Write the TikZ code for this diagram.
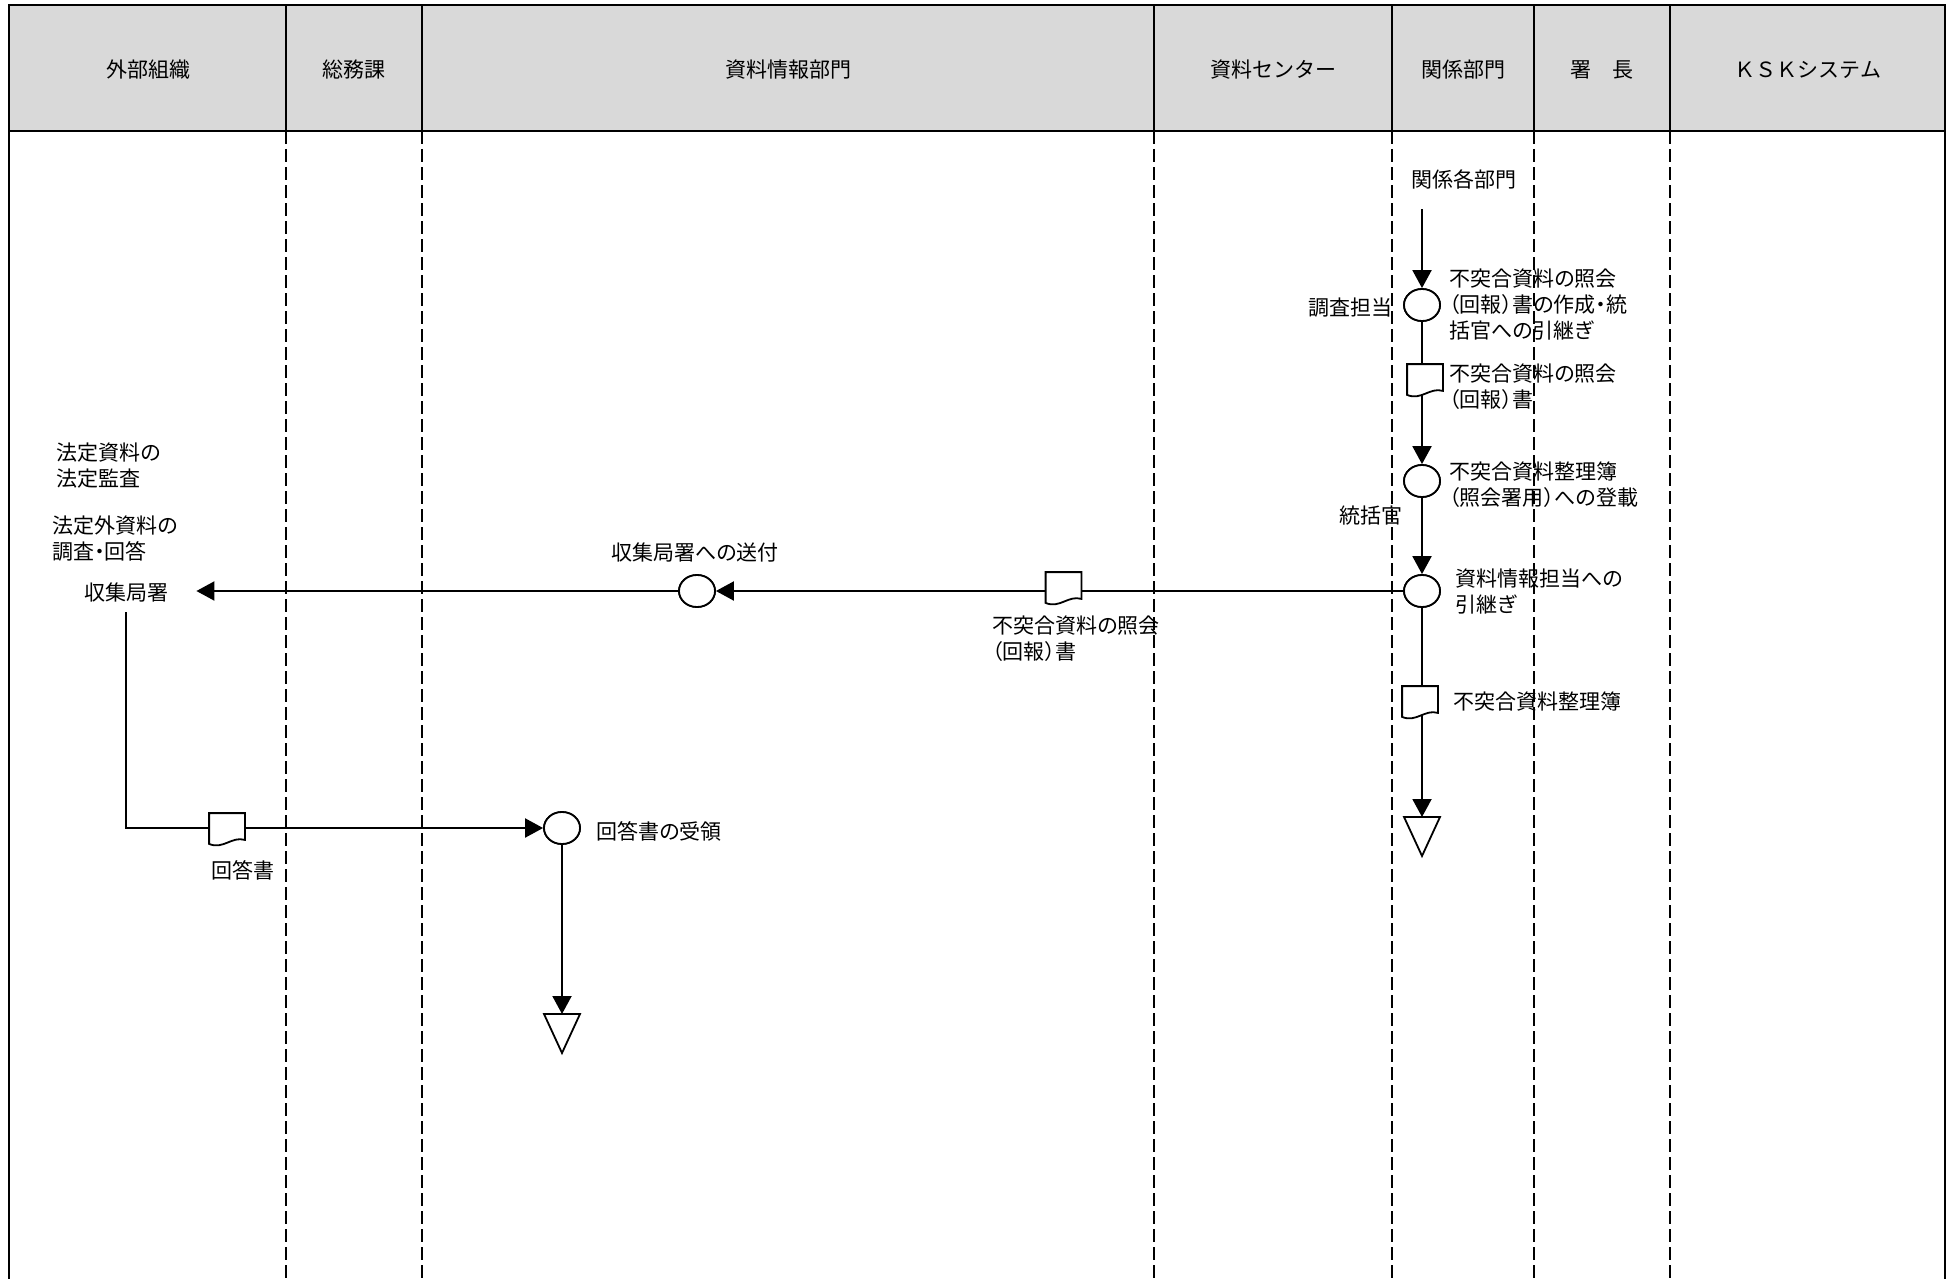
\documentclass[tikz,border=0pt]{standalone}
\usepackage{fontspec}
\setmainfont{Noto Sans CJK JP}[RawFeature={+palt}]
\newfontfamily\monojp{Noto Sans CJK JP}
\usetikzlibrary{arrows.meta,shapes.geometric}
\definecolor{hdrgray}{HTML}{D9D9D9}
\newcommand\docnode[2]{\node[docbox] (#1) at (#2) {};}
\newcommand\docdraw[1]{%
  \draw[line width=0.9pt, fill=white] (#1.north west) -- (#1.north east)
    -- ([shift={(0,-7)}]#1.south east)
    .. controls ([shift={(-13,-11)}]#1.south east) and ([shift={(14,3)}]#1.south west)
    .. ([shift={(0,-3)}]#1.south west) -- cycle;}
\begin{document}
\begin{tikzpicture}[x=0.5pt,y=-0.5pt,
  every node/.style={font=\fontsize{10.5}{13}\selectfont, inner sep=0pt},
  hdr/.style={font=\monojp\fontsize{10.5}{13}\selectfont},
  lbl/.style={align=left, anchor=west},
  proc/.style={ellipse, draw, line width=0.9pt, fill=white, minimum width=18pt, minimum height=16pt},
  docbox/.style={minimum width=17.5pt, minimum height=16.5pt},
  flow/.style={line width=1pt},
  arr/.style={flow, -{Triangle[length=9pt,width=9.5pt]}},
  lane/.style={line width=0.9pt, dash pattern=on 6.5pt off 2.5pt},
  border/.style={line width=1.2pt}]
\useasboundingbox (0,0) rectangle (1959,1279);
% header and lanes
\draw[border, fill=hdrgray] (9,5) rectangle (1945,131);
\foreach \x in {286,422,1154,1392,1534,1670} {
  \draw[border] (\x,5) -- (\x,131);
  \draw[lane] (\x,131) -- (\x,1279);
}
\draw[border] (9,131) -- (9,1279);
\draw[border] (1945,131) -- (1945,1279);
\node[hdr] (h1) at (148,70) {外部組織};
\node[hdr] (h2) at (354,70) {総務課};
\node[hdr] (h3) at (788,70) {資料情報部門};
\node[hdr] (h4) at (1273,70) {資料センター};
\node[hdr] (h5) at (1463,70) {関係部門};
\node[hdr] (h6) at (1602,70) {署　長};
\node[hdr] (h7) at (1808,70) {ＫＳＫシステム};
% process nodes
\coordinate (s1) at (1422,209);
\node[proc] (c1) at (1422,305) {};
\docnode{d1}{1425,381}
\node[proc] (c2) at (1422,481) {};
\node[proc] (c3) at (1422,591) {};
\docnode{d2}{1420,703}
\coordinate (e1) at (1422,817);
\docnode{d3}{1063.5,589}
\node[proc] (c5) at (697,591) {};
\node[inner xsep=14pt, inner ysep=5pt] (kyoku) at (126,592) {収集局署};
\docnode{d4}{227,830}
\node[proc] (c6) at (562,828) {};
\coordinate (e2) at (562,1014);
% connectors
\draw[arr] (s1) -- (c1.north);
\draw[flow] (c1.south) -- (c1.south |- d1.center);
\draw[arr] (c1.south |- d1.center) -- (c2.north);
\draw[arr] (c2.south) -- (c3.north);
\draw[flow] (c3.south) -- (c3.south |- d2.center);
\draw[arr] (c3.south |- d2.center) -- (e1);
\draw[arr] (c3.west) -- (c5.east);
\draw[arr] (c5.west) -- (c5.west -| kyoku.east);
\draw[arr] (kyoku.south) |- (c6.west);
\draw[arr] (c6.south) -- (e2);
% redraw circles and docs on top
\node[proc] at (c1) {};
\node[proc] at (c2) {};
\node[proc] at (c3) {};
\node[proc] at (c5) {};
\node[proc] at (c6) {};
\docdraw{d1}
\docdraw{d2}
\docdraw{d3}
\docdraw{d4}
% terminals
\draw[line width=0.9pt, fill=white] ([shift={(-18,0)}]e1) -- ([shift={(18,0)}]e1) -- ([shift={(0,39)}]e1) -- cycle;
\draw[line width=0.9pt, fill=white] ([shift={(-18,0)}]e2) -- ([shift={(18,0)}]e2) -- ([shift={(0,39)}]e2) -- cycle;
% labels
\node (t14) at (1464,179) {関係各部門};
\node (t12) at (1350,308) {調査担当};
\node (t13) at (1371,516) {統括官};
\node[lbl] (t1) at (1449,305) {不突合資料の照会\\（回報）書の作成・統\\括官への引継ぎ};
\node[lbl] (t2) at (1449,387) {不突合資料の照会\\（回報）書};
\node[lbl] (t3) at (1449,485) {不突合資料整理簿\\（照会署用）への登載};
\node[lbl] (t4) at (1455,592) {資料情報担当への\\引継ぎ};
\node[lbl] (t5) at (1453,702) {不突合資料整理簿};
\node[lbl] (t6) at (992,639) {不突合資料の照会\\（回報）書};
\node (t7) at (695,553) {収集局署への送付};
\node (t8) at (243,870) {回答書};
\node[lbl] (t9) at (596,831) {回答書の受領};
\node[lbl] (t10) at (56,466) {法定資料の\\法定監査};
\node[lbl] (t11) at (52,539) {法定外資料の\\調査・回答};
\end{tikzpicture}
\end{document}
